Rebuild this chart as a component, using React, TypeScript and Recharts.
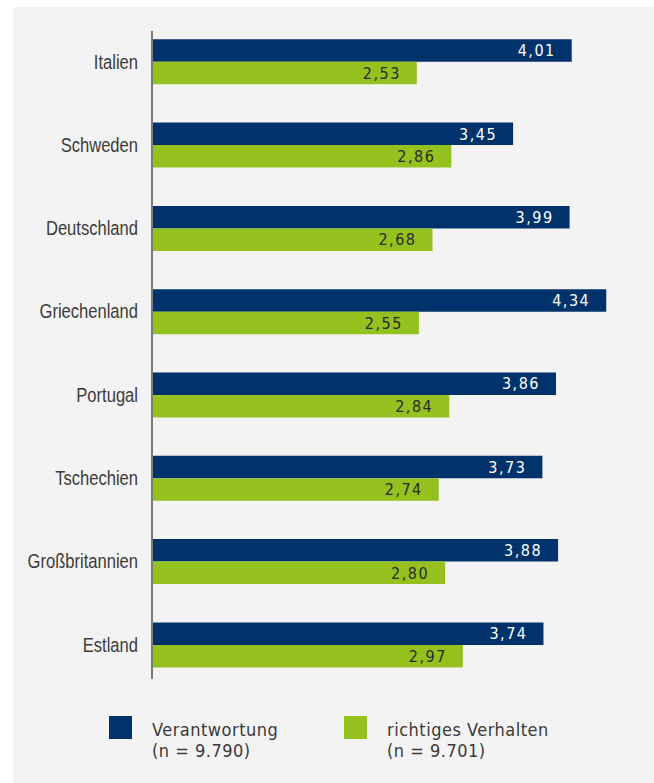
import React from "react"
import { Bar, BarChart, LabelList, XAxis, YAxis } from "recharts"

const countries = [
  "Italien",
  "Schweden",
  "Deutschland",
  "Griechenland",
  "Portugal",
  "Tschechien",
  "Großbritannien",
  "Estland",
]
const verantwortung = [4.01, 3.45, 3.99, 4.34, 3.86, 3.73, 3.88, 3.74]
const richtigesVerhalten = [2.53, 2.86, 2.68, 2.55, 2.84, 2.74, 2.8, 2.97]

const seriesNames = ["Verantwortung", "richtiges Verhalten"]
const seriesN = ["(n = 9.790)", "(n = 9.701)"]

const BLUE = "#00336b"
const GREEN = "#95c11f"

const data = countries.map((name, i) => ({
  name,
  verantwortung: verantwortung[i],
  richtig: richtigesVerhalten[i],
}))

const fmt = (v: any) => Number(v).toFixed(2).replace(".", ",")

const labelFont = "'Liberation Sans', Arial, sans-serif"
const valueFont = "'DejaVu Sans Condensed', 'DejaVu Sans', sans-serif"

// narrow look for the country names
const CountryTick = (props: any) => {
  const { x, y, payload } = props
  return (
    <g transform={`translate(${x},${y}) scale(0.85,1)`}>
      <text x={0} y={0} dy="0.34em" textAnchor="end" fill="#3c3c3c" fontSize={19.5} fontFamily={labelFont}>
        {payload.value}
      </text>
    </g>
  )
}

export default function App() {
  const legendColors = [BLUE, GREEN]
  const legendLeft = [109, 344]
  return (
    <div style={{ position: "absolute", left: 0, top: 0, width: 654, height: 783, background: "#fff" }}>
      <div style={{ position: "absolute", left: 13, top: 7, width: 641, height: 776, background: "#f3f3f3" }} />
      <div style={{ position: "absolute", left: 0, top: 0 }}>
        <BarChart
          width={654}
          height={700}
          data={data}
          layout="vertical"
          barGap={0}
          margin={{ top: 20.3, right: 31, bottom: 13.3, left: 0 }}
        >
          <XAxis type="number" domain={[0, 4.5]} hide />
          <YAxis
            type="category"
            dataKey="name"
            width={152}
            axisLine={false}
            tickLine={false}
            tickMargin={8}
            tick={<CountryTick />}
          />
          <Bar dataKey="verantwortung" fill={BLUE} barSize={22.5} isAnimationActive={false}>
            <LabelList
              dataKey="verantwortung"
              position="insideRight"
              offset={16}
              formatter={fmt}
              style={{ fill: "#ffffff", fontSize: 16, fontFamily: valueFont, letterSpacing: 1.5 }}
            />
          </Bar>
          <Bar dataKey="richtig" fill={GREEN} barSize={22.5} isAnimationActive={false}>
            <LabelList
              dataKey="richtig"
              position="insideRight"
              offset={16}
              formatter={fmt}
              style={{ fill: "#2a2a2a", fontSize: 16, fontFamily: valueFont, letterSpacing: 1.5 }}
            />
          </Bar>
        </BarChart>
      </div>
      <div style={{ position: "absolute", left: 151, top: 31, width: 1.5, height: 648, background: "#7a7a7a" }} />
      {seriesNames.map((name, i) => (
        <React.Fragment key={name}>
          <div
            style={{
              position: "absolute",
              left: legendLeft[i],
              top: 716,
              width: 23,
              height: 23,
              background: legendColors[i],
            }}
          />
          <div
            style={{
              position: "absolute",
              left: legendLeft[i] + 43,
              top: 719,
              fontFamily: valueFont,
              fontSize: 18,
              lineHeight: "21px",
              letterSpacing: 0.5,
              color: "#3a3a3a",
              whiteSpace: "nowrap",
            }}
          >
            <div>{name}</div>
            <div>{seriesN[i]}</div>
          </div>
        </React.Fragment>
      ))}
    </div>
  )
}
